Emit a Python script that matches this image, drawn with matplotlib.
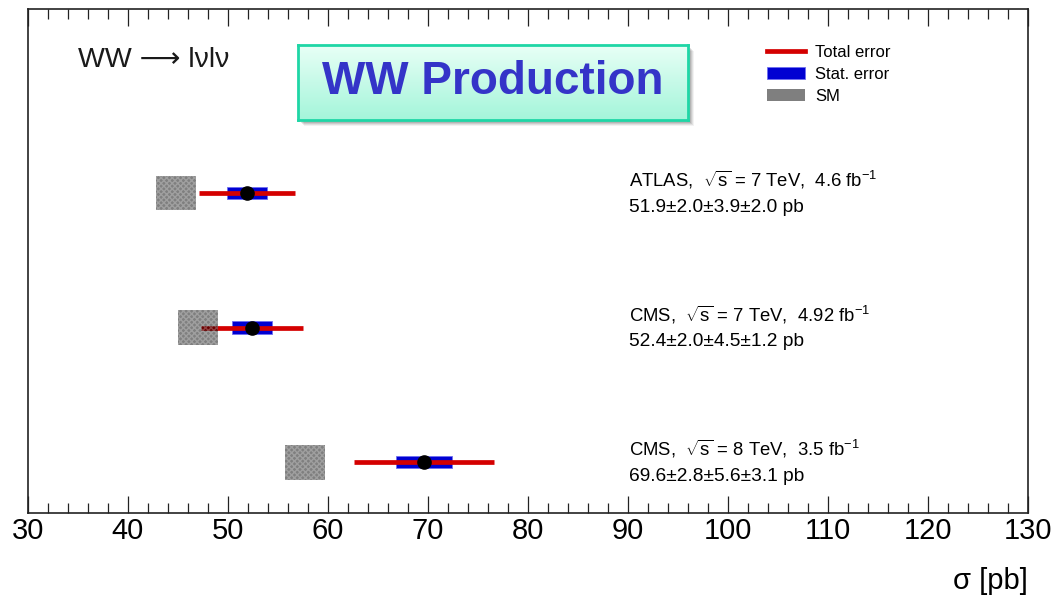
import numpy as np
import matplotlib
matplotlib.use("Agg")
import matplotlib.pyplot as plt
from matplotlib.lines import Line2D
from matplotlib.patches import Patch, Rectangle

plt.rcParams['font.family'] = ['Liberation Sans', 'DejaVu Sans']
plt.rcParams['mathtext.fontset'] = 'custom'
plt.rcParams['mathtext.rm'] = 'Liberation Sans'
plt.rcParams['mathtext.it'] = 'Liberation Sans:italic'
plt.rcParams['mathtext.bf'] = 'Liberation Sans:bold'

# WW cross-section measurements (top to bottom)
experiments = ["ATLAS", "CMS", "CMS"]
energies = ["7", "7", "8"]
luminosities = ["4.6", "4.92", "3.5"]
sigma = [51.9, 52.4, 69.6]
stat_err = [2.0, 2.0, 2.8]
syst_err = [3.9, 4.5, 5.6]
lumi_err = [2.0, 1.2, 3.1]

# Standard Model predictions with asymmetric uncertainties
sm_sigma = [44.7, 47.0, 57.3]
sm_up = [2.1, 2.0, 2.4]
sm_down = [1.9, 2.0, 1.6]

x_min, x_max = 30, 130

RED = '#d40000'
BLUE = '#0000d2'

W, H = 1055, 600
fig = plt.figure(figsize=(W / 100, H / 100), dpi=100, facecolor='white')
ax = fig.add_axes([28 / W, 1 - 513 / H, 1000 / W, 504 / H])
ax.set_facecolor('none')

n = len(sigma)
ypos = np.arange(n, 0, -1)
sig = np.array(sigma)
stat = np.array(stat_err)
tot = np.sqrt(np.array(stat_err) ** 2 + np.array(syst_err) ** 2 + np.array(lumi_err) ** 2)
sm = np.array(sm_sigma)
smu = np.array(sm_up)
smd = np.array(sm_down)

# statistical error boxes
ax.barh(ypos, 2 * stat, left=sig - stat, height=0.09, color=BLUE,
        edgecolor='#6f6ff0', linewidth=0.6, zorder=2)
# total error bars
ax.hlines(ypos, sig - tot, sig + tot, color=RED, linewidth=3.4, zorder=3)
# SM prediction bands
ax.barh(ypos, smu + smd, left=sm - smd, height=0.26, color=(0.0, 0.0, 0.0, 0.5),
        edgecolor='none', linewidth=0, zorder=4)
ax.barh(ypos, smu + smd, left=sm - smd, height=0.26, facecolor='none',
        edgecolor=(1, 1, 1, 0.25), hatch='xxxxxx', linewidth=0, zorder=4)
# central values
ax.plot(sig, ypos, 'o', color='black', markersize=9.5, zorder=5)

# measurement annotations
for yv, exp, e, lum, s, st, sy, lu in zip(ypos, experiments, energies, luminosities,
                                          sigma, stat_err, syst_err, lumi_err):
    ax.text(90.1, yv + 0.045,
            f"{exp},  $\\sqrt{{\\mathrm{{s}}}}$ = {e} TeV,  {lum} fb$^{{-1}}$",
            fontsize=13.3, va='baseline', ha='left')
    ax.text(90.1, yv - 0.141, f"{s:.1f}±{st:.1f}±{sy:.1f}±{lu:.1f} pb",
            fontsize=13.8, va='baseline', ha='left')

ax.set_xlim(x_min, x_max)
ax.set_ylim(0.621, 4.368)
ax.set_xticks(np.arange(x_min, x_max + 1, 10))
ax.set_xticks(np.arange(x_min, x_max + 1, 2), minor=True)
ax.set_yticks([])
ax.tick_params(axis='x', which='both', direction='in', top=True, bottom=True,
               labelsize=21, pad=3, width=0.9, color='#222222')
ax.tick_params(axis='x', which='major', length=12.5)
ax.tick_params(axis='x', which='minor', length=7)
for sp in ax.spines.values():
    sp.set_linewidth(1.2)
    sp.set_color('#222222')

fig.text(1028 / W, 1 - 589 / H, "σ [pb]", fontsize=21, ha='right', va='baseline')

# process label
fig.text(78 / W, 1 - 67 / H, "WW ⟶ lνlν", fontsize=20.5, ha='left',
         va='baseline', color='#1a1a1a', family=['Liberation Sans', 'DejaVu Sans'])

# legend
handles = [Line2D([0], [0], color=RED, linewidth=3.4),
           Patch(facecolor=BLUE, edgecolor='#6f6ff0', linewidth=0.6),
           Patch(facecolor=(0, 0, 0, 0.5), edgecolor='none')]
labels = ["Total error", "Stat. error", "SM"]
fig.legend(handles, labels, loc='upper left', bbox_to_anchor=(767 / W, 1 - 45 / H),
           frameon=False, fontsize=12, handlelength=2.3, handletextpad=0.6,
           labelspacing=0.42, borderpad=0, borderaxespad=0, handleheight=0.75)

# title banner with soft shadow and vertical gradient
bx0, by0, bw, bh = 298, 45, 390, 75
for k, a in [(6, 0.05), (5, 0.07), (4, 0.09), (3, 0.11)]:
    fig.patches.append(Rectangle(((bx0 + k) / W, 1 - (by0 + bh + k) / H), bw / W, bh / H,
                                 transform=fig.transFigure, facecolor='black', alpha=a,
                                 edgecolor='none', zorder=0.5))
bax = fig.add_axes([bx0 / W, 1 - (by0 + bh) / H, bw / W, bh / H])
bax.set_zorder(1)
top_c = np.array([232, 255, 246]) / 255
bot_c = np.array([164, 245, 218]) / 255
t = np.linspace(0, 1, 64)[:, None, None]
grad = top_c * (1 - t) + bot_c * t
grad = np.repeat(grad, 2, axis=1)
bax.imshow(grad, aspect='auto', extent=[0, 1, 0, 1], origin='upper')
bax.set_xlim(0, 1)
bax.set_ylim(0, 1)
bax.set_xticks([])
bax.set_yticks([])
for sp in bax.spines.values():
    sp.set_color('#1fd6a6')
    sp.set_linewidth(2)
bax.text(0.5, 0.5, "WW Production", fontsize=33, fontweight='bold', color='#3434c8',
         ha='center', va='center', transform=bax.transAxes)

fig.savefig("out.png", dpi=100, facecolor='white')
